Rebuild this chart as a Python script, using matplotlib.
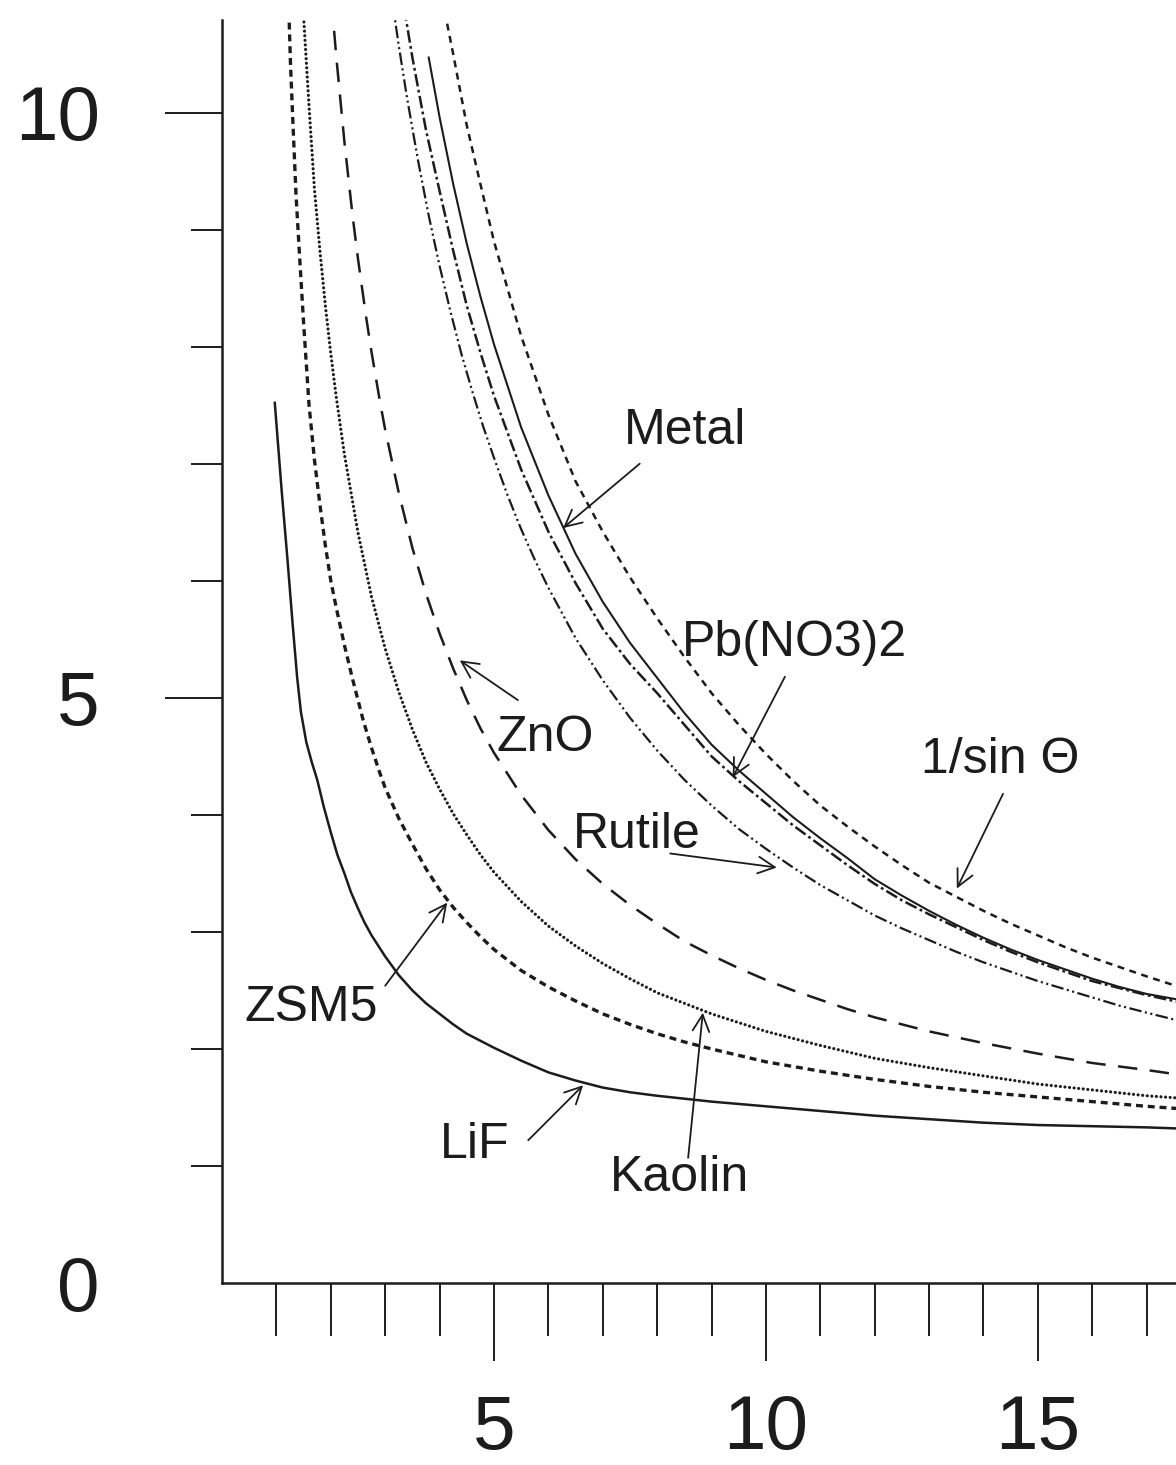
import matplotlib
matplotlib.use('Agg')
import matplotlib.pyplot as plt

plt.rcParams['font.family'] = ['Liberation Sans', 'DejaVu Sans']
plt.rcParams['lines.scale_dashes'] = False

INK = '#1c1c1c'

# ---- data ----
lif_x = [0.97, 1.1, 1.2, 1.3, 1.38, 1.45, 1.55, 1.65, 1.75, 1.87, 2.0, 2.12, 2.25, 2.37, 2.5, 2.62, 2.75,
         3.0, 3.25, 3.5, 3.75, 4.0, 4.25, 4.5, 4.75, 5.0, 5.5, 6.0, 6.5, 7.0, 7.5, 8.0, 9.0, 10.0,
         11.0, 12.0, 13.0, 14.0, 15.0, 16.0, 17.0, 17.6]
lif_y = [7.52, 6.75, 6.2, 5.62, 5.18, 4.88, 4.62, 4.45, 4.3, 4.07, 3.85, 3.66, 3.5, 3.34, 3.2, 3.08, 2.97,
         2.79, 2.63, 2.5, 2.39, 2.3, 2.21, 2.13, 2.07, 2.01, 1.9, 1.8, 1.73, 1.67, 1.63, 1.6, 1.55, 1.51,
         1.47, 1.43, 1.40, 1.37, 1.35, 1.34, 1.33, 1.32]

zsm5_x = [1.22, 1.26, 1.3, 1.36, 1.43, 1.5, 1.6, 1.7, 1.8, 1.9, 2.0, 2.1, 2.25, 2.4, 2.5, 2.6, 2.75, 2.9,
          3.0, 3.25, 3.5, 3.75, 4.0, 4.25, 4.5, 4.75, 5.0, 5.5, 6.0, 6.5, 7.0, 7.5, 8.0, 8.5, 9.0,
          10.0, 11.0, 12.0, 13.0, 14.0, 15.0, 16.0, 17.0, 17.6]
zsm5_y = [11.0, 10.4, 9.95, 9.3, 8.74, 8.2, 7.5, 7.03, 6.65, 6.3, 6.0, 5.77, 5.45, 5.16, 4.98, 4.8, 4.57, 4.36,
          4.23, 3.97, 3.75, 3.54, 3.36, 3.21, 3.08, 2.96, 2.85, 2.67, 2.53, 2.41, 2.30, 2.21, 2.13, 2.06, 2.00,
          1.89, 1.81, 1.74, 1.68, 1.63, 1.59, 1.55, 1.51, 1.49]

kaolin_x = [1.45, 1.6, 1.7, 1.8, 1.9, 2.0, 2.1, 2.25, 2.5, 2.75, 3.0, 3.25, 3.5, 3.75, 4.0, 4.25, 4.5,
            4.75, 5.0, 5.5, 6.0, 6.5, 7.0, 7.5, 8.0, 8.5, 9.0, 10.0, 11.0, 12.0, 13.0, 14.0, 15.0, 16.0,
            17.0, 17.6]
kaolin_y = [11.2, 10.05, 9.34, 8.82, 8.35, 7.94, 7.57, 7.08, 6.41, 5.86, 5.42, 5.05, 4.73, 4.45, 4.22, 4.01,
            3.83, 3.66, 3.51, 3.26, 3.05, 2.88, 2.73, 2.60, 2.48, 2.39, 2.30, 2.15, 2.03, 1.92, 1.84, 1.77,
            1.70, 1.65, 1.60, 1.58]

zno_x = [2.0, 2.1, 2.25, 2.4, 2.5, 2.65, 2.75, 2.9, 3.0, 3.25, 3.5, 3.75, 4.0, 4.25, 4.5, 4.75, 5.0, 5.5,
         6.0, 6.5, 7.0, 7.5, 8.0, 8.5, 9.0, 9.5, 10.0, 10.5, 11.0, 11.5, 12.0, 13.0, 14.0, 15.0, 16.0,
         17.0, 17.6]
zno_y = [11.04, 10.48, 9.75, 9.12, 8.75, 8.25, 7.95, 7.54, 7.29, 6.75, 6.28, 5.89, 5.55, 5.25, 4.98, 4.74,
         4.53, 4.17, 3.87, 3.62, 3.41, 3.23, 3.07, 2.92, 2.80, 2.69, 2.59, 2.50, 2.42, 2.34, 2.27, 2.15, 2.05,
         1.96, 1.88, 1.82, 1.78]

rutile_x = [3.1, 3.25, 3.4, 3.6, 3.8, 4.0, 4.2, 4.4, 4.6, 4.8, 5.0, 5.25, 5.5, 5.75, 6.0, 6.5, 7.0, 7.5,
            8.0, 8.5, 9.0, 9.5, 10.0, 10.5, 11.0, 11.5, 12.0, 12.5, 13.0, 13.5, 14.0, 14.5, 15.0, 15.5,
            16.0, 16.5, 17.0, 17.6]
rutile_y = [11.05, 10.57, 10.13, 9.6, 9.12, 8.69, 8.30, 7.94, 7.62, 7.32, 7.05, 6.73, 6.44, 6.18, 5.94, 5.51,
            5.15, 4.83, 4.55, 4.30, 4.08, 3.88, 3.71, 3.55, 3.40, 3.27, 3.14, 3.03, 2.93, 2.83, 2.74, 2.66,
            2.58, 2.51, 2.44, 2.37, 2.31, 2.24]

pb_x = [3.35, 3.5, 3.75, 4.0, 4.25, 4.5, 4.75, 5.0, 5.5, 6.0, 6.5, 7.0, 7.5, 8.0, 8.5, 9.0, 9.5, 10.0,
        10.5, 11.0, 11.5, 12.0, 12.5, 13.0, 13.5, 14.0, 14.5, 15.0, 15.5, 16.0, 16.5, 17.0, 17.6]
pb_y = [10.89, 10.47, 9.85, 9.33, 8.82, 8.35, 7.95, 7.58, 6.95, 6.42, 5.98, 5.59, 5.29, 5.04, 4.77, 4.50,
        4.29, 4.10, 3.91, 3.74, 3.57, 3.41, 3.27, 3.15, 3.04, 2.93, 2.83, 2.74, 2.66, 2.58, 2.52, 2.46, 2.40]

metal_x = [3.8, 4.0, 4.25, 4.5, 4.75, 5.0, 5.5, 6.0, 6.5, 7.0, 7.5, 8.0, 8.5, 9.0, 9.5, 10.0, 10.5,
           11.0, 11.5, 12.0, 12.5, 13.0, 13.5, 14.0, 14.5, 15.0, 15.5, 16.0, 16.5, 17.0, 17.6]
metal_y = [10.47, 9.96, 9.39, 8.88, 8.43, 8.02, 7.31, 6.73, 6.23, 5.82, 5.47, 5.17, 4.87, 4.60, 4.38, 4.18,
           3.98, 3.80, 3.63, 3.45, 3.31, 3.18, 3.06, 2.95, 2.85, 2.76, 2.68, 2.60, 2.53, 2.47, 2.42]

sin_x = [4.0, 4.1, 4.25, 4.5, 4.75, 5.0, 5.5, 6.0, 6.5, 7.0, 7.5, 8.0, 8.5, 9.0, 9.5, 10.0, 10.5, 11.0,
         11.5, 12.0, 12.5, 13.0, 13.5, 14.0, 14.5, 15.0, 15.5, 16.0, 16.5, 17.0, 17.6]
sin_y = [11.2, 10.85, 10.5, 9.89, 9.39, 8.90, 8.09, 7.42, 6.85, 6.42, 6.03, 5.68, 5.35, 5.04, 4.77, 4.52,
         4.29, 4.08, 3.90, 3.73, 3.57, 3.42, 3.30, 3.18, 3.07, 2.97, 2.87, 2.78, 2.70, 2.62, 2.53]

x_major = [5, 10, 15]
x_major_labels = ['5', '10', '15']
x_minor = [1, 2, 3, 4, 6, 7, 8, 9, 11, 12, 13, 14, 16, 17]
y_major = [0, 5, 10]
y_major_labels = ['0', '5', '10']
y_minor = [1, 2, 3, 4, 6, 7, 8, 9]

# label text, text centre, arrow tail, arrow tip
labels = [
    ('Metal', (8.51, 7.28), (7.68, 7.0), (6.27, 6.45)),
    ('Pb(NO3)2', (10.53, 5.47), (10.35, 5.18), (9.39, 4.32)),
    ('1/sin \u0398', (14.3, 4.47), (14.36, 4.18), (13.51, 3.37)),
    ('ZnO', (5.94, 4.66), (5.44, 4.98), (4.37, 5.32)),
    ('Rutile', (7.63, 3.83), (8.24, 3.67), (10.2, 3.55)),
    ('ZSM5', (1.64, 2.35), (3.0, 2.54), (4.14, 3.25)),
    ('LiF', (4.65, 1.18), (5.63, 1.22), (6.64, 1.69)),
    ('Kaolin', (8.42, 0.90), (8.57, 1.07), (8.84, 2.31)),
]

fig = plt.figure(figsize=(11.76, 14.65), dpi=100)
ax = fig.add_axes([0.1888, 0.1242, 0.8112, 0.8621])
ax.set_xlim(0, 17.54)
ax.set_ylim(0, 10.79)

ax.plot(lif_x, lif_y, color=INK, lw=1.8, ls='-')
ax.plot(zsm5_x, zsm5_y, color=INK, lw=2.4, ls=(0, (5, 3.5)))
ax.plot(kaolin_x, kaolin_y, color=INK, lw=2.3, ls=(0, (0.01, 3.3)), dash_capstyle='round')
ax.plot(zno_x, zno_y, color=INK, lw=1.8, ls=(0, (14, 9)))
ax.plot(rutile_x, rutile_y, color=INK, lw=1.6, ls=(0, (9, 2.5, 1.5, 2.5, 1.5, 2.5)))
ax.plot(pb_x, pb_y, color=INK, lw=1.8, ls=(0, (9, 2.5, 2, 2.5)))
ax.plot(metal_x, metal_y, color=INK, lw=1.5, ls='-')
ax.plot(sin_x, sin_y, color=INK, lw=1.8, ls=(0, (5, 4)))

for txt, pos, tail, tip in labels:
    ax.text(pos[0], pos[1], txt, ha='center', va='center', fontsize=36, color=INK)
    ax.annotate('', xy=tip, xytext=tail,
                arrowprops=dict(arrowstyle='->', lw=1.3, color=INK, mutation_scale=30,
                                shrinkA=0, shrinkB=0))

for s in ['top', 'right']:
    ax.spines[s].set_visible(False)
for s in ['left', 'bottom']:
    ax.spines[s].set_linewidth(1.8)
    ax.spines[s].set_color(INK)

ax.set_xticks(x_major)
ax.set_xticklabels(x_major_labels)
ax.set_xticks(x_minor, minor=True)
ax.set_yticks(y_major)
ax.set_yticklabels(y_major_labels)
ax.set_yticks(y_minor, minor=True)
ax.tick_params(axis='x', which='major', direction='out', length=56, width=1.4, pad=24,
               labelsize=55, colors=INK)
ax.tick_params(axis='x', which='minor', direction='out', length=38, width=1.4, colors=INK)
ax.tick_params(axis='y', which='major', direction='out', length=41, width=1.4, pad=47,
               labelsize=55, colors=INK)
ax.tick_params(axis='y', which='minor', direction='out', length=22, width=1.4, colors=INK)
ax.yaxis.get_major_ticks()[0].tick1line.set_visible(False)

fig.savefig('out.png', dpi=100, facecolor='white')
